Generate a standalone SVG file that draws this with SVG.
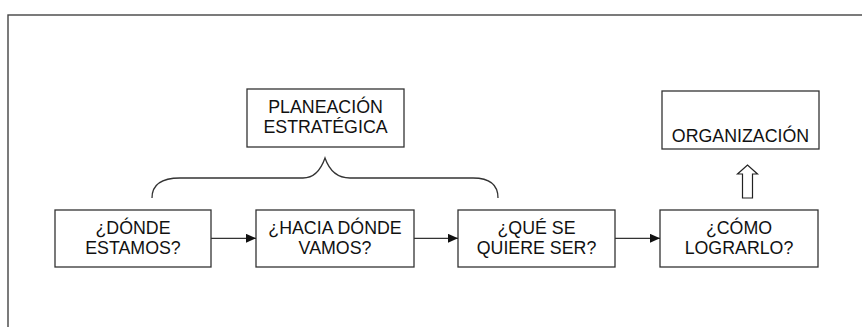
<svg xmlns="http://www.w3.org/2000/svg" width="862" height="327" viewBox="0 0 862 327">
<style>
.box{fill:#fff;stroke:#333;stroke-width:1.3}
.t{font-family:"Liberation Sans",Arial,sans-serif;font-size:17.8px;fill:#111;text-anchor:middle}
.ln{fill:none;stroke:#333;stroke-width:1.3}
</style>
<defs>
<marker id="ah" markerWidth="10" markerHeight="9" refX="10" refY="4.5" orient="auto" markerUnits="userSpaceOnUse">
<path d="M0,0 L10,4.5 L0,9 Z" fill="#111"/>
</marker>
</defs>
<rect width="862" height="327" fill="#fff"/>
<rect x="8" y="15" width="900" height="400" fill="none" stroke="#444" stroke-width="1.4"/>
<g id="planeacion">
<rect class="box" x="247" y="89" width="157" height="58"/>
<text class="t" x="325.5" y="113">PLANEACIÓN</text>
<text class="t" x="325.5" y="133">ESTRATÉGICA</text>
</g>
<g id="organizacion">
<rect class="box" x="662" y="91" width="157" height="58"/>
<text class="t" x="740.5" y="142">ORGANIZACIÓN</text>
</g>
<g id="donde">
<rect class="box" x="55" y="210" width="156" height="57"/>
<text class="t" x="133" y="233.5">¿DÓNDE</text>
<text class="t" x="133" y="254">ESTAMOS?</text>
</g>
<g id="hacia">
<rect class="box" x="256" y="210" width="158" height="57"/>
<text class="t" x="335" y="233.5">¿HACIA DÓNDE</text>
<text class="t" x="335" y="254">VAMOS?</text>
</g>
<g id="que">
<rect class="box" x="458" y="210" width="157" height="57"/>
<text class="t" x="536.5" y="233.5">¿QUÉ SE</text>
<text class="t" x="536.5" y="254">QUIERE SER?</text>
</g>
<g id="como">
<rect class="box" x="660" y="210" width="158" height="57"/>
<text class="t" x="739" y="233.5">¿CÓMO</text>
<text class="t" x="739" y="254">LOGRARLO?</text>
</g>
<g id="connectors">
<line class="ln" x1="211" y1="238.3" x2="256" y2="238.3" marker-end="url(#ah)"/>
<line class="ln" x1="414" y1="238.3" x2="458" y2="238.3" marker-end="url(#ah)"/>
<line class="ln" x1="615" y1="238.3" x2="660" y2="238.3" marker-end="url(#ah)"/>
<path class="ln" d="M152,198 Q152,178 180,178 L303,178 Q318,178 325,158 Q332,178 350,178 L473,178 Q498,178 498,198"/>
<path d="M742.5,198 L742.5,174 L737.5,174 L747.5,165 L757.5,174 L752.5,174 L752.5,198 Z" fill="#fff" stroke="#222" stroke-width="1.2"/>
</g>
</svg>
